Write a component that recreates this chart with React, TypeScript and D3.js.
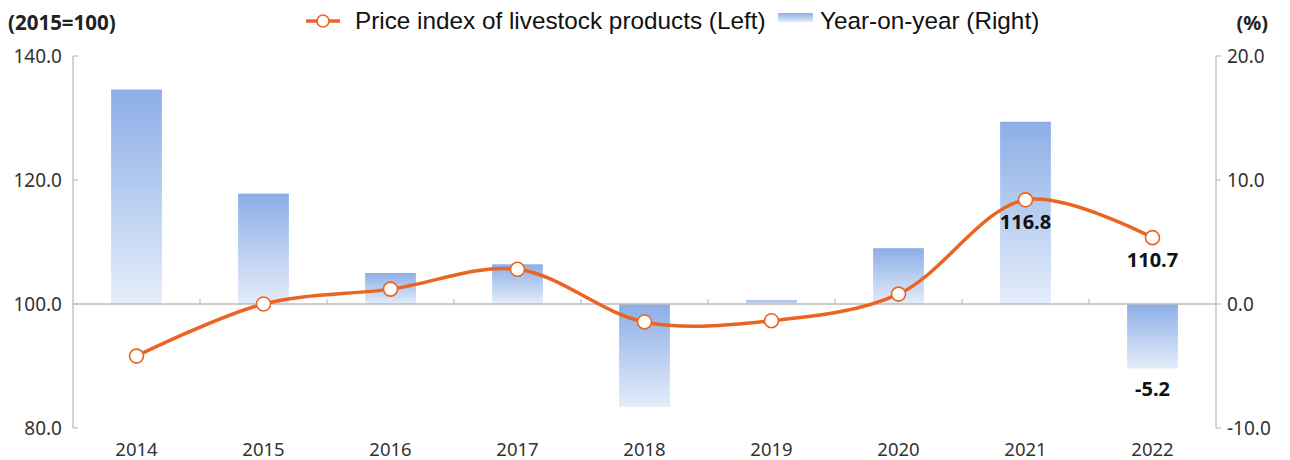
import React from "react";
import * as d3 from "d3";

const years = ["2014", "2015", "2016", "2017", "2018", "2019", "2020", "2021", "2022"];
const priceIndex = [91.6, 100.0, 102.4, 105.6, 97.1, 97.3, 101.6, 116.8, 110.7];
const yoy = [17.3, 8.9, 2.5, 3.2, -8.3, 0.3, 4.5, 14.7, -5.2];
const leftTicks = [80, 100, 120, 140];
const rightTicks = [-10, 0, 10, 20];
const lineLabels = [{ i: 7, text: "116.8" }, { i: 8, text: "110.7" }];
const barLabels = [{ i: 8, text: "-5.2" }];

const W = 1290, H = 460;
const M = { left: 73, right: 1216, top: 56, bottom: 428 };
const ORANGE = "#ec6421";
const TICKFONT = "'Noto Sans', 'Open Sans', sans-serif";
const LEGFONT = "'Liberation Sans', Arial, sans-serif";

export default function App() {
  const x = d3.scaleBand<string>().domain(years).range([M.left, M.right]).padding(0);
  const yL = d3.scaleLinear().domain([80, 140]).range([M.bottom, M.top]);
  const yR = d3.scaleLinear().domain([-10, 20]).range([M.bottom, M.top]);
  const bw = x.bandwidth() * 0.4;
  const cx = (i: number) => (x(years[i]) as number) + x.bandwidth() / 2;
  const line = d3
    .line<number>()
    .x((_, i) => cx(i))
    .y((d) => yL(d))
    .curve(d3.curveCatmullRom.alpha(0.5));
  const zeroY = yR(0);

  return (
    <svg width={W} height={H} style={{ display: "block", position: "absolute", left: 0, top: 0 }}>
      <defs>
        <linearGradient id="barGrad" x1="0" y1="0" x2="0" y2="1">
          <stop offset="0%" stopColor="#8caee6" />
          <stop offset="100%" stopColor="#e4edfa" />
        </linearGradient>
      </defs>
      <rect width={W} height={H} fill="#fff" />

      {/* bars */}
      {yoy.map((v, i) => {
        const y0 = yR(Math.max(0, v));
        const y1 = yR(Math.min(0, v));
        return (
          <rect key={i} x={cx(i) - bw / 2} y={y0} width={bw} height={y1 - y0} fill="url(#barGrad)" />
        );
      })}

      {/* category axis at zero */}
      <line x1={M.left} x2={M.right} y1={zeroY} y2={zeroY} stroke="#bdbdbd" strokeWidth={1.3} />
      {years.slice(1).map((yv) => {
        const xx = x(yv) as number;
        return <line key={yv} x1={xx} x2={xx} y1={zeroY} y2={zeroY - 5} stroke="#bdbdbd" strokeWidth={1.2} />;
      })}

      {/* left axis */}
      <line x1={M.left} x2={M.left} y1={M.top} y2={M.bottom} stroke="#bdbdbd" strokeWidth={1.3} />
      {leftTicks.map((t) => (
        <g key={t}>
          <line x1={M.left} x2={M.left + 5} y1={yL(t)} y2={yL(t)} stroke="#bdbdbd" strokeWidth={1.2} />
          <text x={62} y={yL(t)} dy="0.35em" textAnchor="end" fontFamily={TICKFONT} fontSize={19} fill="#333">
            {t.toFixed(1)}
          </text>
        </g>
      ))}

      {/* right axis */}
      <line x1={M.right} x2={M.right} y1={M.top} y2={M.bottom} stroke="#bdbdbd" strokeWidth={1.3} />
      {rightTicks.map((t) => (
        <g key={t}>
          <line x1={M.right} x2={M.right + 5} y1={yR(t)} y2={yR(t)} stroke="#bdbdbd" strokeWidth={1.2} />
          <text x={1227} y={yR(t)} dy="0.35em" textAnchor="start" fontFamily={TICKFONT} fontSize={19} fill="#333">
            {t.toFixed(1)}
          </text>
        </g>
      ))}

      {/* x labels */}
      {years.map((yv, i) => (
        <text key={yv} x={cx(i)} y={456} textAnchor="middle" fontFamily={TICKFONT} fontSize={18.5} fill="#333">
          {yv}
        </text>
      ))}

      {/* unit labels */}
      <text x={8} y={30} fontFamily={TICKFONT} fontSize={20.5} fontWeight="bold" fill="#222">(2015=100)</text>
      <text x={1268} y={30} textAnchor="end" fontFamily={TICKFONT} fontSize={20} fontWeight="bold" fill="#222">(%)</text>

      {/* line */}
      <path d={line(priceIndex) || ""} fill="none" stroke={ORANGE} strokeWidth={3.5} />
      {priceIndex.map((v, i) => (
        <circle key={i} cx={cx(i)} cy={yL(v)} r={7} fill="#fff" stroke={ORANGE} strokeWidth={1.6} />
      ))}

      {/* data labels */}
      {lineLabels.map((l) => (
        <text key={l.text} x={cx(l.i)} y={yL(priceIndex[l.i]) + 29} textAnchor="middle" fontFamily={TICKFONT} fontSize={20} fontWeight="bold" fill="#111">
          {l.text}
        </text>
      ))}
      {barLabels.map((l) => (
        <text key={l.text} x={cx(l.i)} y={yR(yoy[l.i]) + 28} textAnchor="middle" fontFamily={TICKFONT} fontSize={20} fontWeight="bold" fill="#111">
          {l.text}
        </text>
      ))}

      {/* legend */}
      <line x1={306} x2={340} y1={21} y2={21} stroke={ORANGE} strokeWidth={3.5} />
      <circle cx={323} cy={21} r={6} fill="#fff" stroke={ORANGE} strokeWidth={1.6} />
      <text x={355} y={29} fontFamily={LEGFONT} fontSize={24.3} fill="#111">Price index of livestock products (Left)</text>
      <rect x={778} y={13} width={35} height={9} fill="url(#barGrad)" />
      <text x={820} y={29} fontFamily={LEGFONT} fontSize={24.3} fill="#111">Year-on-year (Right)</text>
    </svg>
  );
}
